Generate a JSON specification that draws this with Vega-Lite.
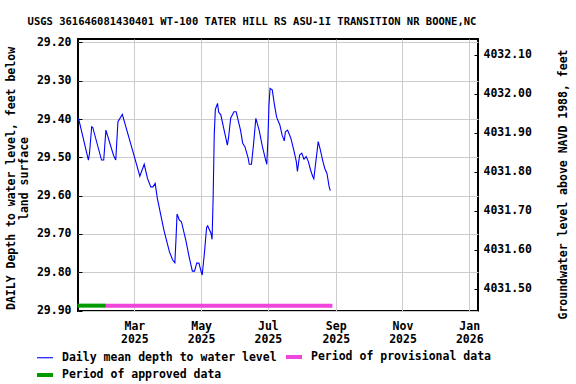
{
  "$schema": "https://vega.github.io/schema/vega-lite/v6.json",
  "width": 400,
  "height": 272,
  "autosize": {"type": "none"},
  "padding": {"left": 78, "top": 39, "right": 98, "bottom": 73},
  "background": "white",
  "config": {
    "font": "DejaVu Sans Mono",
    "view": {"stroke": "#000000", "strokeWidth": 2},
    "axis": {
      "labelFont": "DejaVu Sans Mono",
      "labelFontWeight": "bold",
      "labelFontSize": 11.5,
      "labelColor": "#000000",
      "titleFont": "DejaVu Sans Mono",
      "titleFontWeight": "bold",
      "titleFontSize": 11.5,
      "titleColor": "#000000",
      "tickColor": "#000000",
      "gridColor": "#cccccc",
      "gridWidth": 1,
      "domain": false
    },
    "legend": {
      "labelFont": "DejaVu Sans Mono",
      "labelFontWeight": "bold",
      "labelFontSize": 11.5,
      "labelColor": "#000000",
      "labelLimit": 0
    }
  },
  "title": {
    "text": "USGS 361646081430401 WT-100 TATER HILL RS ASU-1I TRANSITION NR BOONE,NC",
    "font": "DejaVu Sans Mono",
    "fontSize": 10.5,
    "fontWeight": "bold",
    "color": "#000000",
    "anchor": "middle",
    "dx": -26,
    "offset": 9
  },
  "layer": [
    {
      "data": {
        "values": [
          {"date": "2025-01-09T00:00", "depth": 29.398, "series": "Daily mean depth to water level"},
          {"date": "2025-01-18T00:00", "depth": 29.507, "series": "Daily mean depth to water level"},
          {"date": "2025-01-19T00:00", "depth": 29.490, "series": "Daily mean depth to water level"},
          {"date": "2025-01-21T00:00", "depth": 29.420, "series": "Daily mean depth to water level"},
          {"date": "2025-01-22T00:00", "depth": 29.422, "series": "Daily mean depth to water level"},
          {"date": "2025-01-30T00:00", "depth": 29.507, "series": "Daily mean depth to water level"},
          {"date": "2025-02-01T00:00", "depth": 29.507, "series": "Daily mean depth to water level"},
          {"date": "2025-02-03T00:00", "depth": 29.429, "series": "Daily mean depth to water level"},
          {"date": "2025-02-10T00:00", "depth": 29.495, "series": "Daily mean depth to water level"},
          {"date": "2025-02-12T00:00", "depth": 29.507, "series": "Daily mean depth to water level"},
          {"date": "2025-02-14T00:00", "depth": 29.407, "series": "Daily mean depth to water level"},
          {"date": "2025-02-18T00:00", "depth": 29.388, "series": "Daily mean depth to water level"},
          {"date": "2025-03-01T00:00", "depth": 29.498, "series": "Daily mean depth to water level"},
          {"date": "2025-03-06T00:00", "depth": 29.549, "series": "Daily mean depth to water level"},
          {"date": "2025-03-10T00:00", "depth": 29.518, "series": "Daily mean depth to water level"},
          {"date": "2025-03-13T00:00", "depth": 29.555, "series": "Daily mean depth to water level"},
          {"date": "2025-03-16T00:00", "depth": 29.577, "series": "Daily mean depth to water level"},
          {"date": "2025-03-18T00:00", "depth": 29.577, "series": "Daily mean depth to water level"},
          {"date": "2025-03-20T00:00", "depth": 29.568, "series": "Daily mean depth to water level"},
          {"date": "2025-03-22T00:00", "depth": 29.607, "series": "Daily mean depth to water level"},
          {"date": "2025-03-28T00:00", "depth": 29.690, "series": "Daily mean depth to water level"},
          {"date": "2025-04-02T00:00", "depth": 29.746, "series": "Daily mean depth to water level"},
          {"date": "2025-04-05T00:00", "depth": 29.768, "series": "Daily mean depth to water level"},
          {"date": "2025-04-07T00:00", "depth": 29.775, "series": "Daily mean depth to water level"},
          {"date": "2025-04-08T00:00", "depth": 29.716, "series": "Daily mean depth to water level"},
          {"date": "2025-04-09T00:00", "depth": 29.648, "series": "Daily mean depth to water level"},
          {"date": "2025-04-11T00:00", "depth": 29.663, "series": "Daily mean depth to water level"},
          {"date": "2025-04-13T00:00", "depth": 29.668, "series": "Daily mean depth to water level"},
          {"date": "2025-04-17T00:00", "depth": 29.716, "series": "Daily mean depth to water level"},
          {"date": "2025-04-20T00:00", "depth": 29.759, "series": "Daily mean depth to water level"},
          {"date": "2025-04-23T00:00", "depth": 29.797, "series": "Daily mean depth to water level"},
          {"date": "2025-04-25T00:00", "depth": 29.797, "series": "Daily mean depth to water level"},
          {"date": "2025-04-27T00:00", "depth": 29.776, "series": "Daily mean depth to water level"},
          {"date": "2025-04-29T00:00", "depth": 29.776, "series": "Daily mean depth to water level"},
          {"date": "2025-05-01T00:00", "depth": 29.798, "series": "Daily mean depth to water level"},
          {"date": "2025-05-02T00:00", "depth": 29.807, "series": "Daily mean depth to water level"},
          {"date": "2025-05-04T00:00", "depth": 29.750, "series": "Daily mean depth to water level"},
          {"date": "2025-05-06T00:00", "depth": 29.683, "series": "Daily mean depth to water level"},
          {"date": "2025-05-07T00:00", "depth": 29.679, "series": "Daily mean depth to water level"},
          {"date": "2025-05-10T00:00", "depth": 29.698, "series": "Daily mean depth to water level"},
          {"date": "2025-05-11T00:00", "depth": 29.714, "series": "Daily mean depth to water level"},
          {"date": "2025-05-12T00:00", "depth": 29.603, "series": "Daily mean depth to water level"},
          {"date": "2025-05-13T00:00", "depth": 29.440, "series": "Daily mean depth to water level"},
          {"date": "2025-05-14T00:00", "depth": 29.375, "series": "Daily mean depth to water level"},
          {"date": "2025-05-16T00:00", "depth": 29.359, "series": "Daily mean depth to water level"},
          {"date": "2025-05-17T00:00", "depth": 29.382, "series": "Daily mean depth to water level"},
          {"date": "2025-05-19T00:00", "depth": 29.389, "series": "Daily mean depth to water level"},
          {"date": "2025-05-22T00:00", "depth": 29.429, "series": "Daily mean depth to water level"},
          {"date": "2025-05-25T00:00", "depth": 29.468, "series": "Daily mean depth to water level"},
          {"date": "2025-05-26T00:00", "depth": 29.450, "series": "Daily mean depth to water level"},
          {"date": "2025-05-28T00:00", "depth": 29.398, "series": "Daily mean depth to water level"},
          {"date": "2025-05-31T00:00", "depth": 29.381, "series": "Daily mean depth to water level"},
          {"date": "2025-06-02T00:00", "depth": 29.381, "series": "Daily mean depth to water level"},
          {"date": "2025-06-06T00:00", "depth": 29.429, "series": "Daily mean depth to water level"},
          {"date": "2025-06-08T00:00", "depth": 29.463, "series": "Daily mean depth to water level"},
          {"date": "2025-06-10T00:00", "depth": 29.472, "series": "Daily mean depth to water level"},
          {"date": "2025-06-13T00:00", "depth": 29.502, "series": "Daily mean depth to water level"},
          {"date": "2025-06-14T00:00", "depth": 29.518, "series": "Daily mean depth to water level"},
          {"date": "2025-06-16T00:00", "depth": 29.518, "series": "Daily mean depth to water level"},
          {"date": "2025-06-18T00:00", "depth": 29.463, "series": "Daily mean depth to water level"},
          {"date": "2025-06-20T00:00", "depth": 29.398, "series": "Daily mean depth to water level"},
          {"date": "2025-06-23T00:00", "depth": 29.429, "series": "Daily mean depth to water level"},
          {"date": "2025-06-26T00:00", "depth": 29.472, "series": "Daily mean depth to water level"},
          {"date": "2025-06-29T00:00", "depth": 29.507, "series": "Daily mean depth to water level"},
          {"date": "2025-06-30T00:00", "depth": 29.518, "series": "Daily mean depth to water level"},
          {"date": "2025-07-01T00:00", "depth": 29.455, "series": "Daily mean depth to water level"},
          {"date": "2025-07-02T00:00", "depth": 29.363, "series": "Daily mean depth to water level"},
          {"date": "2025-07-03T00:00", "depth": 29.320, "series": "Daily mean depth to water level"},
          {"date": "2025-07-05T00:00", "depth": 29.324, "series": "Daily mean depth to water level"},
          {"date": "2025-07-07T00:00", "depth": 29.363, "series": "Daily mean depth to water level"},
          {"date": "2025-07-09T00:00", "depth": 29.395, "series": "Daily mean depth to water level"},
          {"date": "2025-07-12T00:00", "depth": 29.416, "series": "Daily mean depth to water level"},
          {"date": "2025-07-14T00:00", "depth": 29.442, "series": "Daily mean depth to water level"},
          {"date": "2025-07-16T00:00", "depth": 29.457, "series": "Daily mean depth to water level"},
          {"date": "2025-07-17T00:00", "depth": 29.433, "series": "Daily mean depth to water level"},
          {"date": "2025-07-19T00:00", "depth": 29.429, "series": "Daily mean depth to water level"},
          {"date": "2025-07-22T00:00", "depth": 29.450, "series": "Daily mean depth to water level"},
          {"date": "2025-07-25T00:00", "depth": 29.485, "series": "Daily mean depth to water level"},
          {"date": "2025-07-27T00:00", "depth": 29.511, "series": "Daily mean depth to water level"},
          {"date": "2025-07-28T00:00", "depth": 29.537, "series": "Daily mean depth to water level"},
          {"date": "2025-07-30T00:00", "depth": 29.494, "series": "Daily mean depth to water level"},
          {"date": "2025-08-01T00:00", "depth": 29.489, "series": "Daily mean depth to water level"},
          {"date": "2025-08-03T00:00", "depth": 29.505, "series": "Daily mean depth to water level"},
          {"date": "2025-08-05T00:00", "depth": 29.498, "series": "Daily mean depth to water level"},
          {"date": "2025-08-07T00:00", "depth": 29.511, "series": "Daily mean depth to water level"},
          {"date": "2025-08-09T00:00", "depth": 29.533, "series": "Daily mean depth to water level"},
          {"date": "2025-08-11T00:00", "depth": 29.550, "series": "Daily mean depth to water level"},
          {"date": "2025-08-12T00:00", "depth": 29.556, "series": "Daily mean depth to water level"},
          {"date": "2025-08-14T00:00", "depth": 29.507, "series": "Daily mean depth to water level"},
          {"date": "2025-08-16T00:00", "depth": 29.459, "series": "Daily mean depth to water level"},
          {"date": "2025-08-18T00:00", "depth": 29.481, "series": "Daily mean depth to water level"},
          {"date": "2025-08-20T00:00", "depth": 29.507, "series": "Daily mean depth to water level"},
          {"date": "2025-08-22T00:00", "depth": 29.529, "series": "Daily mean depth to water level"},
          {"date": "2025-08-24T00:00", "depth": 29.542, "series": "Daily mean depth to water level"},
          {"date": "2025-08-26T00:00", "depth": 29.577, "series": "Daily mean depth to water level"},
          {"date": "2025-08-27T00:00", "depth": 29.587, "series": "Daily mean depth to water level"},
          {"date": "2025-01-08T00:00", "depth": 29.887, "series": "Period of approved data"},
          {"date": "2025-02-03T00:00", "depth": 29.887, "series": "Period of approved data"},
          {"date": "2025-02-03T00:00", "depth": 29.887, "series": "Period of provisional data"},
          {"date": "2025-08-29T00:00", "depth": 29.887, "series": "Period of provisional data"}
        ]
      },
      "mark": {"type": "line", "interpolate": "linear"},
      "encoding": {
        "x": {
          "field": "date",
          "type": "temporal",
          "scale": {"domain": [{"year": 2025, "month": 1, "date": 8, "hours": 12}, {"year": 2026, "month": 1, "date": 9}]},
          "axis": {
            "title": null,
            "grid": true,
            "ticks": false,
            "values": [
              {"year": 2025, "month": 3, "date": 1},
              {"year": 2025, "month": 5, "date": 1},
              {"year": 2025, "month": 7, "date": 1},
              {"year": 2025, "month": 9, "date": 1},
              {"year": 2025, "month": 11, "date": 1},
              {"year": 2026, "month": 1, "date": 1}
            ],
            "labelExpr": "[timeFormat(datum.value, '%b'), timeFormat(datum.value, '%Y')]",
            "labelLineHeight": 13,
            "labelPadding": 9
          }
        },
        "y": {
          "field": "depth",
          "type": "quantitative",
          "scale": {"domain": [29.1911, 29.901], "reverse": true, "zero": false, "nice": false},
          "axis": {
            "values": [29.2, 29.3, 29.4, 29.5, 29.6, 29.7, 29.8, 29.9],
            "format": ".2f",
            "grid": true,
            "tickSize": -4,
            "labelPadding": 11,
            "title": ["DAILY Depth to water level, feet below", "land surface"],
            "titleLineHeight": 13,
            "titleX": -67,
            "titleY": 139,
            "titleBaseline": "middle",
            "titleAngle": -90
          }
        },
        "color": {
          "field": "series",
          "type": "nominal",
          "scale": {
            "domain": ["Daily mean depth to water level", "Period of provisional data", "Period of approved data"],
            "range": ["#0000ff", "#f046dc", "#009900"]
          },
          "legend": {
            "title": null,
            "orient": "none",
            "direction": "horizontal",
            "legendX": -43,
            "legendY": 308,
            "columns": 2,
            "symbolType": "stroke",
            "symbolSize": 256,
            "labelOffset": 7,
            "columnPadding": 1,
            "rowPadding": -2
          }
        },
        "strokeWidth": {
          "field": "series",
          "type": "nominal",
          "scale": {
            "type": "ordinal",
            "domain": ["Daily mean depth to water level", "Period of provisional data", "Period of approved data"],
            "range": [1.1, 4, 4]
          },
          "legend": {
            "title": null,
            "orient": "none",
            "direction": "horizontal",
            "legendX": -43,
            "legendY": 308,
            "columns": 2,
            "symbolType": "stroke",
            "symbolSize": 256,
            "labelOffset": 7,
            "columnPadding": 1,
            "rowPadding": -2
          }
        }
      }
    },
    {
      "data": {"values": [{"elev": 4032.0}]},
      "mark": {"type": "point", "opacity": 0},
      "encoding": {
        "y": {
          "field": "elev",
          "type": "quantitative",
          "scale": {"domain": [4031.4425, 4032.1407], "zero": false, "nice": false},
          "axis": {
            "orient": "right",
            "values": [4031.5, 4031.6, 4031.7, 4031.8, 4031.9, 4032.0, 4032.1],
            "format": ".2f",
            "grid": false,
            "tickSize": -4,
            "labelPadding": 9,
            "title": "Groundwater level above NAVD 1988, feet",
            "titleAngle": -90,
            "titleX": 85,
            "titleY": 145,
            "titleBaseline": "middle"
          }
        }
      }
    }
  ],
  "resolve": {"scale": {"y": "independent"}}
}
